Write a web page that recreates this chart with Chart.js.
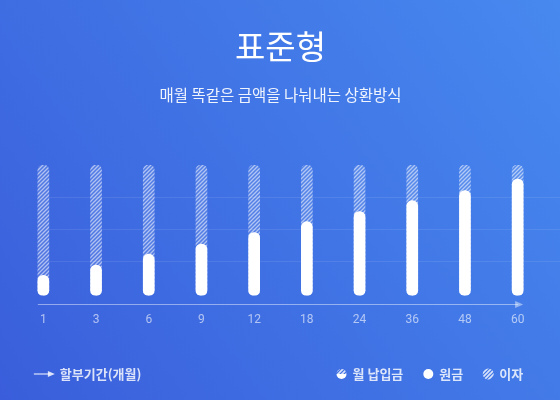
<!DOCTYPE html>
<html><head><meta charset="utf-8">
<style>html,body{margin:0;padding:0;background:#3f6ae2;overflow:hidden}canvas{display:block}</style>
<script src="https://cdn.jsdelivr.net/npm/chart.js@4.4.0/dist/chart.umd.min.js"></script>
</head><body>
<canvas id="c" width="560" height="400" style="width:560px;height:400px"></canvas>
<script>
const categories = ['1', '3', '6', '9', '12', '18', '24', '36', '48', '60'];
const principal = [13.5, 21.5, 30, 38, 47, 55.5, 63.5, 72, 80, 89];
const interest = [86.5, 78.5, 70, 62, 53, 44.5, 36.5, 28, 20, 11];
const gridValues = [25, 50, 75];
const titleText = '표준형';
const subtitleText = '매월 똑같은 금액을 나눠내는 상환방식';
const axisLabel = '할부기간(개월)';
const legendLabels = ['월 납입금', '원금', '이자'];

const KR = '"Noto Sans CJK KR", "Noto Sans", sans-serif';
const canvas = document.getElementById('c');
const ctx0 = canvas.getContext('2d');

function makeHatch(size, lw, fg, bg) {
  const c = document.createElement('canvas');
  c.width = size; c.height = size;
  const x = c.getContext('2d');
  if (bg) { x.fillStyle = bg; x.fillRect(0, 0, size, size); }
  x.strokeStyle = fg; x.lineWidth = lw;
  x.beginPath();
  x.moveTo(-1, size + 1); x.lineTo(size + 1, -1);
  x.moveTo(-1, 1); x.lineTo(1, -1);
  x.moveTo(size - 1, size + 1); x.lineTo(size + 1, size - 1);
  x.stroke();
  return ctx0.createPattern(c, 'repeat');
}
const barHatch = makeHatch(4, 1.3, 'rgba(255,255,255,0.55)', 'rgba(255,255,255,0.1)');
const iconHatch = makeHatch(4, 1.6, 'rgba(255,255,255,0.8)', null);

const totals = principal.map((p, i) => p + interest[i]);

const bgPlugin = {
  id: 'bg',
  beforeDraw(chart) {
    const { ctx, width, height } = chart;
    const g = ctx.createLinearGradient(0, height, width, 0);
    g.addColorStop(0, '#3a5edb');
    g.addColorStop(1, '#4789ef');
    ctx.save();
    ctx.fillStyle = g;
    ctx.fillRect(0, 0, width, height);
    ctx.restore();
  },
  beforeDatasetsDraw(chart) {
    const { ctx, width, scales: { x, y } } = chart;
    ctx.save();
    ctx.strokeStyle = 'rgba(255,255,255,0.09)';
    ctx.lineWidth = 1;
    const x0 = x.getPixelForValue(0) + 5.5;
    gridValues.forEach(v => {
      const py = Math.round(y.getPixelForValue(v)) + 0.5;
      ctx.beginPath(); ctx.moveTo(x0, py); ctx.lineTo(width, py); ctx.stroke();
    });
    ctx.restore();
  },
  afterDraw(chart) {
    const { ctx, chartArea, scales: { x } } = chart;
    ctx.save();
    // axis with arrow
    const ay = Math.round(chartArea.bottom + 8) + 0.5;
    const ax0 = x.getPixelForValue(0) - 5.5;
    const ax1 = x.getPixelForValue(categories.length - 1) + 5.5;
    ctx.strokeStyle = 'rgba(255,255,255,0.45)';
    ctx.fillStyle = 'rgba(255,255,255,0.45)';
    ctx.lineWidth = 1;
    ctx.beginPath(); ctx.moveTo(ax0, ay); ctx.lineTo(ax1 - 5, ay); ctx.stroke();
    ctx.beginPath(); ctx.moveTo(ax1, ay); ctx.lineTo(ax1 - 8, ay - 3.5); ctx.lineTo(ax1 - 8, ay + 3.5); ctx.closePath(); ctx.fill();

    // bottom legend
    const ly = 374;
    const tc = 'rgba(255,255,255,0.82)';
    ctx.font = 'bold 13px ' + KR;
    ctx.textBaseline = 'middle';
    ctx.textAlign = 'left';
    // left: arrow + axis label
    ctx.strokeStyle = tc; ctx.fillStyle = tc; ctx.lineWidth = 1.2;
    ctx.beginPath(); ctx.moveTo(ax0 - 4, ly); ctx.lineTo(ax0 + 12, ly); ctx.stroke();
    ctx.beginPath(); ctx.moveTo(ax0 + 17, ly); ctx.lineTo(ax0 + 10, ly - 3); ctx.lineTo(ax0 + 10, ly + 3); ctx.closePath(); ctx.fill();
    ctx.fillText(axisLabel, ax0 + 22, ly);

    // right legend, laid out from right end
    const gapText = 11, gapItem = 25;
    let right = ax1;
    const pos = [];
    for (let i = legendLabels.length - 1; i >= 0; i--) {
      const w = ctx.measureText(legendLabels[i]).width;
      const tx = right - w;
      const cx = tx - gapText;
      pos[i] = { tx, cx };
      right = cx - gapItem;
    }
    legendLabels.forEach((lab, i) => {
      const { tx, cx } = pos[i];
      ctx.fillStyle = tc;
      ctx.fillText(lab, tx, ly);
      if (i === 0) {
        ctx.save();
        ctx.beginPath(); ctx.arc(cx, ly, 5, 0, Math.PI); ctx.closePath();
        ctx.fillStyle = '#fff'; ctx.fill();
        ctx.beginPath(); ctx.arc(cx, ly, 5, Math.PI, 2 * Math.PI); ctx.closePath();
        ctx.fillStyle = iconHatch; ctx.fill();
        ctx.restore();
      } else if (i === 1) {
        ctx.beginPath(); ctx.arc(cx, ly, 5, 0, 2 * Math.PI);
        ctx.fillStyle = '#fff'; ctx.fill();
      } else {
        ctx.beginPath(); ctx.arc(cx, ly, 5.5, 0, 2 * Math.PI);
        ctx.fillStyle = iconHatch; ctx.fill();
      }
    });
    ctx.restore();
  }
};

new Chart(canvas, {
  type: 'bar',
  data: {
    labels: categories,
    datasets: [
      {
        label: legendLabels[1], data: principal, backgroundColor: '#ffffff',
        order: 1, base: -2.5, grouped: false, barThickness: 11,
        borderRadius: 6, borderSkipped: false
      },
      {
        label: legendLabels[2], data: totals, backgroundColor: barHatch,
        order: 2, base: -2.5, grouped: false, barThickness: 11,
        borderRadius: 6, borderSkipped: false
      }
    ]
  },
  options: {
    responsive: false,
    animation: false,
    devicePixelRatio: 1,
    layout: { padding: { left: 17, right: 16, top: 0, bottom: 56 } },
    plugins: {
      legend: { display: false },
      tooltip: { enabled: false },
      title: {
        display: true, text: titleText, color: '#ffffff',
        font: { family: KR, size: 33, weight: '400', lineHeight: 1.2 },
        padding: { top: 26.2, bottom: 19.9 }
      },
      subtitle: {
        display: true, text: subtitleText, color: 'rgba(255,255,255,0.92)',
        font: { family: KR, size: 15.5, weight: '400', lineHeight: 1.2 },
        padding: { top: 0, bottom: 60.7 }
      }
    },
    scales: {
      x: {
        offset: true,
        grid: { display: false, drawTicks: false },
        border: { display: false },
        ticks: { color: 'rgba(255,255,255,0.6)', font: { family: 'Roboto', size: 12 }, padding: 17 }
      },
      y: { display: false, min: -2.5, max: 100 }
    }
  },
  plugins: [bgPlugin]
});
</script>
</body></html>
